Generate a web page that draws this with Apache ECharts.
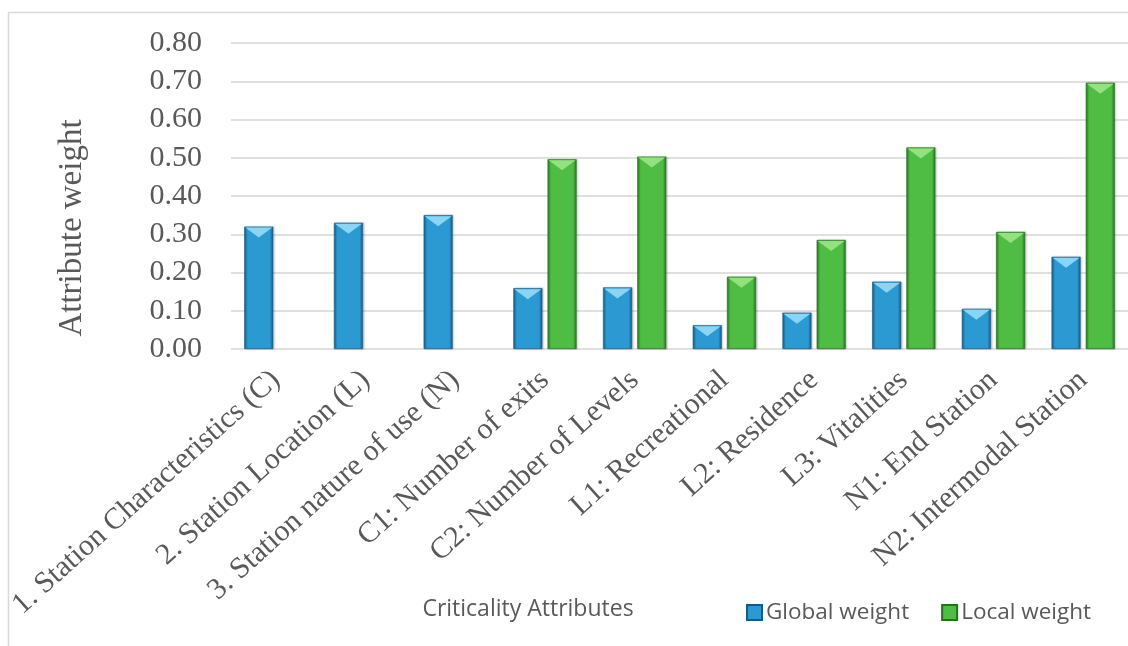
<!DOCTYPE html>
<html>
<head>
<meta charset="utf-8">
<script src="https://cdn.jsdelivr.net/npm/echarts@6/dist/echarts.min.js"></script>
<style>
  html, body { margin: 0; padding: 0; background: #ffffff; }
  #chart { width: 1128px; height: 646px; }
</style>
</head>
<body>
<div id="chart"></div>
<script>
// Criticality attributes and their AHP weights
const categories = [
  '1. Station Characteristics (C)',
  '2. Station Location (L)',
  '3. Station nature of use (N)',
  'C1: Number of exits',
  'C2: Number of Levels',
  'L1: Recreational',
  'L2: Residence',
  'L3: Vitalities',
  'N1: End Station',
  'N2: Intermodal Station'
];
const globalWeight = [0.32, 0.33, 0.35, 0.159, 0.161, 0.062, 0.095, 0.176, 0.105, 0.241];
const localWeight = ['-', '-', '-', 0.496, 0.503, 0.189, 0.285, 0.527, 0.306, 0.696];
const yTicks = { min: 0, max: 0.8, interval: 0.1 };

const serif = 'Liberation Serif, Times New Roman, serif';
const sans = 'Open Sans, Lato, sans-serif';
const textGray = '#595959';

const BAR_W = 29;
const BAR_GAP = '18%';

function barGradient(edgeL, mid, edgeR) {
  return new echarts.graphic.LinearGradient(0, 0, 1, 0, [
    { offset: 0, color: edgeL },
    { offset: 0.12, color: mid },
    { offset: 0.5, color: mid },
    { offset: 0.88, color: mid },
    { offset: 1, color: edgeR }
  ]);
}
const blueFill = barGradient('#17648f', '#2c9ad2', '#145a84');
const greenFill = barGradient('#2a7f26', '#4fbd43', '#267322');

// Bevel highlight drawn on the top of each bar
const bevel = 'path://M0,0 L20,0 L10,7 Z';

const chart = echarts.init(document.getElementById('chart'), null, { renderer: 'canvas' });

chart.setOption({
  animation: false,
  grid: { left: 231, top: 43, width: 906, height: 306, containLabel: false },
  legend: {
    left: 741, top: 596,
    itemWidth: 15, itemHeight: 15, itemGap: 32,
    icon: 'rect',
    textStyle: { fontFamily: sans, fontSize: 22.5, color: textGray, padding: [0, 0, 0, -1] },
    data: ['Global weight', 'Local weight']
  },
  xAxis: {
    type: 'category',
    data: categories,
    axisTick: { show: false },
    axisLine: { show: false },
    axisLabel: {
      rotate: 42, interval: 0, margin: 27,
      fontFamily: serif, fontSize: 30, color: textGray
    }
  },
  yAxis: {
    type: 'value',
    min: yTicks.min, max: yTicks.max, interval: yTicks.interval,
    axisLine: { show: false },
    axisTick: { show: false },
    splitLine: { lineStyle: { color: '#d6d6d6', width: 1.6 } },
    axisLabel: {
      margin: 29,
      fontFamily: serif, fontSize: 30, color: textGray,
      formatter: v => v.toFixed(2)
    }
  },
  series: [
    {
      name: 'Global weight', type: 'bar',
      barWidth: BAR_W, barGap: BAR_GAP,
      data: globalWeight,
      itemStyle: { color: blueFill, borderColor: '#155b85', borderWidth: 0.6,
        shadowColor: 'rgba(0,0,0,0.25)', shadowBlur: 2, shadowOffsetX: 1, shadowOffsetY: 0 }
    },
    {
      name: 'Local weight', type: 'bar',
      barWidth: BAR_W, barGap: BAR_GAP,
      data: localWeight,
      itemStyle: { color: greenFill, borderColor: '#25701f', borderWidth: 0.6,
        shadowColor: 'rgba(0,0,0,0.25)', shadowBlur: 2, shadowOffsetX: 1, shadowOffsetY: 0 }
    },
    {
      name: 'Global bevel', type: 'pictorialBar',
      barWidth: BAR_W, barGap: BAR_GAP,
      data: globalWeight,
      symbol: bevel, symbolSize: [BAR_W - 2, 10],
      symbolPosition: 'end', symbolOffset: [0, 1],
      itemStyle: { color: '#8ad4f4' },
      silent: true, z: 3
    },
    {
      name: 'Local bevel', type: 'pictorialBar',
      barWidth: BAR_W, barGap: BAR_GAP,
      data: localWeight,
      symbol: bevel, symbolSize: [BAR_W - 2, 10],
      symbolPosition: 'end', symbolOffset: [0, 1],
      itemStyle: { color: '#93e17f' },
      silent: true, z: 3
    }
  ],
  graphic: [
    {
      type: 'rect', silent: true, z: -1,
      shape: { x: 8.5, y: 12.5, width: 1200, height: 700 },
      style: { fill: 'none', stroke: '#d9d9d9', lineWidth: 1.5 }
    },
    {
      type: 'text', x: 72, y: 228, rotation: Math.PI / 2,
      style: { text: 'Attribute weight', fontFamily: serif, fontSize: 33, fill: textGray,
        textAlign: 'center', textVerticalAlign: 'middle' }
    },
    {
      type: 'text', x: 528, y: 609,
      style: { text: 'Criticality Attributes', fontFamily: sans, fontSize: 23, fill: textGray,
        textAlign: 'center', textVerticalAlign: 'middle' }
    }
  ]
});
</script>
</body>
</html>
